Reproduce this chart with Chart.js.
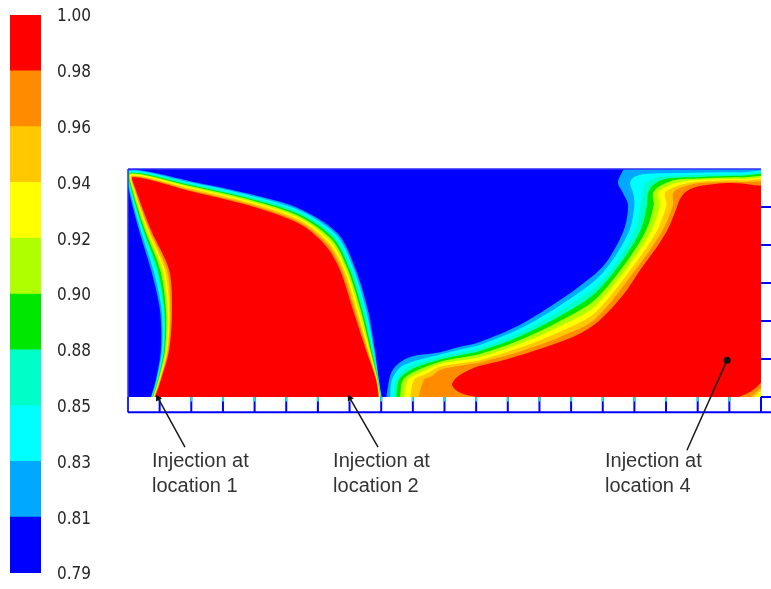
<!DOCTYPE html>
<html><head><meta charset="utf-8">
<script src="https://cdn.jsdelivr.net/npm/chart.js@4.4.0/dist/chart.umd.min.js"></script>
<style>
html,body{margin:0;padding:0;background:#fff;}
#wrap{position:relative;width:771px;height:589px;overflow:hidden;background:#fff;}
canvas{position:absolute;left:0;top:0;}
</style></head><body>
<div id="wrap">
<canvas id="bar" width="110" height="589"></canvas>
<canvas id="field" width="771" height="589"></canvas>
</div>
<script>
// ---------- colour scale ----------
const levelLabels = ['0.79','0.81','0.83','0.85','0.88','0.90','0.92','0.94','0.96','0.98','1.00']; // bottom -> top
const bandColors  = ['#0000ff','#00a8ff','#00ffff','#00ffc8','#00e800','#b0ff00','#ffff00','#ffc800','#ff8c00','#ff0000'];

// ---------- domain (x: 20 injector cells, y: 6 side cells) ----------
const domainBox = [[0,0],[20,0],[20,6],[0,6]];
const injectorTicks = [0,1,2,3,4,5,6,7,8,9,10,11,12,13,14,15,16,17,18,19,20];
const sideTicks = [0,1,2,3,4,5];

// ---------- contours, plume from injections 1 & 2 (levels 0.81 ... 0.98) ----------
const leftL1 = [[0.70,-0.08],[0.88,0.45],[1.04,1.24],[1.01,2.29],[0.73,3.34],[0.35,4.39],[0.03,5.45],[0.00,5.97],[1.96,5.68],[3.85,5.34],[5.43,4.95],[6.64,4.29],[7.20,3.34],[7.58,2.29],[7.80,1.24],[7.93,0.45],[8.03,-0.08]];
const leftL2 = [[0.71,-0.08],[0.90,0.45],[1.07,1.24],[1.06,2.29],[0.80,3.34],[0.40,4.39],[0.06,5.45],[0.02,5.95],[1.96,5.65],[3.85,5.30],[5.43,4.90],[6.59,4.25],[7.14,3.34],[7.52,2.29],[7.77,1.24],[7.92,0.45],[8.02,-0.08]];
const leftL3 = [[0.73,-0.08],[0.92,0.45],[1.11,1.24],[1.11,2.29],[0.87,3.34],[0.45,4.39],[0.09,5.45],[0.04,5.92],[1.96,5.62],[3.85,5.26],[5.43,4.85],[6.54,4.21],[7.08,3.34],[7.46,2.29],[7.73,1.24],[7.91,0.45],[8.00,-0.08]];
const leftL4 = [[0.74,-0.08],[0.94,0.45],[1.14,1.24],[1.15,2.29],[0.94,3.34],[0.49,4.39],[0.11,5.45],[0.06,5.90],[1.96,5.58],[3.85,5.22],[5.43,4.80],[6.50,4.17],[7.01,3.34],[7.40,2.29],[7.70,1.24],[7.90,0.45],[7.99,-0.08]];
const leftL5 = [[0.76,-0.08],[0.96,0.45],[1.17,1.24],[1.20,2.29],[1.02,3.34],[0.54,4.39],[0.14,5.45],[0.08,5.88],[1.96,5.55],[3.85,5.19],[5.43,4.75],[6.45,4.13],[6.95,3.34],[7.35,2.29],[7.66,1.24],[7.89,0.45],[7.98,-0.08]];
const leftL6 = [[0.77,-0.08],[0.98,0.45],[1.20,1.24],[1.25,2.29],[1.09,3.34],[0.59,4.39],[0.17,5.45],[0.10,5.86],[1.96,5.52],[3.85,5.15],[5.43,4.70],[6.40,4.09],[6.89,3.34],[7.29,2.29],[7.63,1.24],[7.87,0.45],[7.97,-0.08]];
const leftL7 = [[0.79,-0.08],[1.00,0.45],[1.24,1.24],[1.30,2.29],[1.16,3.34],[0.64,4.39],[0.20,5.45],[0.12,5.83],[1.96,5.49],[3.85,5.11],[5.43,4.65],[6.35,4.05],[6.83,3.34],[7.23,2.29],[7.59,1.24],[7.86,0.45],[7.96,-0.08]];
const leftL8 = [[0.80,-0.08],[1.02,0.45],[1.27,1.24],[1.34,2.29],[1.23,3.34],[0.68,4.39],[0.22,5.45],[0.14,5.81],[1.96,5.45],[3.85,5.07],[5.43,4.60],[6.31,4.01],[6.76,3.34],[7.17,2.29],[7.56,1.24],[7.85,0.45],[7.94,-0.08]];
const leftL9 = [[0.82,-0.08],[1.04,0.45],[1.30,1.24],[1.39,2.29],[1.30,3.34],[0.73,4.39],[0.25,5.45],[0.16,5.79],[1.96,5.42],[3.85,5.03],[5.43,4.55],[6.26,3.97],[6.70,3.34],[7.11,2.29],[7.52,1.24],[7.84,0.45],[7.93,-0.08]];
const leftPlume = [leftL1,leftL2,leftL3,leftL4,leftL5,leftL6,leftL7,leftL8,leftL9];

// ---------- contours, plume from injection 4 ----------
const rightL1 = [[8.15,-0.08],[8.25,0.45],[8.34,0.68],[8.53,0.87],[8.85,1.03],[9.23,1.11],[9.86,1.18],[10.49,1.32],[11.12,1.45],[12.39,1.90],[13.65,2.55],[14.76,3.24],[15.17,3.61],[15.67,4.40],[15.80,5.05],[15.64,5.37],[15.48,5.63],[15.58,5.87],[15.80,6.08],[20.6,6.08],[20.6,-0.4]];
const rightL2 = [[8.28,-0.08],[8.34,0.45],[8.69,0.83],[9.86,1.12],[10.49,1.25],[11.12,1.37],[12.39,1.80],[13.65,2.41],[14.76,3.07],[15.32,3.61],[15.85,4.40],[16.00,5.05],[15.96,5.37],[15.86,5.63],[15.99,5.79],[16.34,5.87],[18.07,5.90],[19.34,5.91],[20.6,5.84],[20.6,-0.4]];
const rightL3 = [[8.37,-0.08],[8.47,0.45],[8.85,0.79],[9.86,1.06],[10.49,1.17],[11.12,1.29],[12.39,1.70],[13.65,2.27],[14.76,2.90],[15.48,3.61],[16.02,4.40],[16.20,5.05],[16.27,5.37],[16.34,5.61],[16.65,5.76],[17.44,5.83],[19.34,5.86],[20.6,5.79],[20.6,-0.4]];
const rightL4 = [[8.47,-0.08],[8.56,0.45],[9.01,0.75],[9.86,0.99],[10.49,1.10],[11.12,1.21],[12.39,1.60],[13.65,2.13],[14.76,2.73],[15.64,3.61],[16.20,4.40],[16.40,5.05],[16.43,5.37],[16.59,5.58],[16.97,5.74],[18.07,5.79],[19.34,5.82],[20.6,5.74],[20.6,-0.4]];
const rightL5 = [[8.59,-0.08],[8.69,0.45],[9.16,0.71],[9.86,0.93],[10.49,1.03],[11.12,1.13],[12.39,1.50],[13.65,2.00],[14.76,2.56],[15.80,3.61],[16.38,4.40],[16.61,5.05],[16.59,5.37],[16.81,5.55],[17.28,5.71],[18.07,5.75],[19.34,5.78],[20.6,5.68],[20.13,0.11],[19.94,-0.08]];
const rightL6 = [[8.72,-0.08],[8.85,0.45],[9.32,0.67],[9.86,0.87],[10.49,0.96],[11.12,1.05],[12.39,1.40],[13.65,1.86],[14.76,2.39],[15.96,3.61],[16.55,4.40],[16.81,5.05],[16.75,5.37],[17.00,5.53],[17.44,5.66],[18.07,5.71],[19.34,5.74],[20.6,5.63],[20.13,0.18],[19.84,-0.08]];
const rightL7 = [[8.91,-0.08],[9.04,0.45],[9.48,0.63],[9.86,0.80],[10.49,0.89],[11.12,0.97],[12.39,1.30],[13.65,1.72],[14.76,2.22],[16.11,3.61],[16.73,4.40],[17.01,5.05],[16.97,5.37],[17.19,5.50],[17.60,5.61],[18.07,5.67],[19.34,5.70],[20.6,5.58],[20.13,0.26],[19.91,0.11],[19.75,-0.08]];
const rightL8 = [[9.16,-0.08],[9.35,0.45],[9.61,0.55],[9.86,0.71],[10.49,0.82],[11.12,0.91],[12.39,1.20],[13.65,1.58],[14.76,2.05],[16.27,3.61],[16.90,4.40],[17.22,5.05],[17.22,5.37],[17.44,5.50],[17.82,5.59],[18.07,5.63],[19.34,5.66],[20.6,5.51],[20.13,0.37],[19.84,0.13],[19.59,-0.08]];
const rightL9 = [[11.60,-0.08],[10.81,0.03],[10.40,0.16],[10.24,0.32],[10.36,0.50],[10.65,0.66],[11.12,0.82],[11.85,0.97],[12.70,1.18],[13.56,1.42],[14.19,1.63],[14.76,1.92],[15.29,2.34],[15.77,2.82],[16.18,3.34],[16.71,3.95],[17.06,4.42],[17.31,4.92],[17.44,5.21],[17.66,5.42],[18.07,5.55],[19.02,5.63],[19.75,5.58],[20.6,5.42],[20.13,0.55],[19.94,0.32],[19.65,0.13],[19.27,-0.01],[19.02,-0.08]];
const rightPlume = [rightL1,rightL2,rightL3,rightL4,rightL5,rightL6,rightL7,rightL8,rightL9];

// ---------- callouts (data coordinates) ----------
const callouts = [
  {lines:['Injection at','location 1'], tip:[0.95,-0.03], tail:[1.80,-1.32], label:[0.76,-1.84], marker:'arrow'},
  {lines:['Injection at','location 2'], tip:[7.01,-0.03], tail:[7.90,-1.32], label:[6.48,-1.84], marker:'arrow'},
  {lines:['Injection at','location 4'], tip:[18.93,0.97], tail:[17.66,-1.40], label:[15.07,-1.84], marker:'dot'}
];

const STRIP = 0.4;   // depth of the injector strip below the domain (y units)
const SIDE  = 0.5;   // width of the side strip right of the domain (x units)

// ================= colour bar =================
new Chart(document.getElementById('bar'), {
  type: 'bar',
  data: {
    labels: [''],
    datasets: bandColors.map((c, i) => ({
      data: [[i, i + 1]], backgroundColor: c, borderWidth: 0,
      grouped: false, barPercentage: 1, categoryPercentage: 1
    }))
  },
  options: {
    responsive: false, animation: false, events: [],
    layout: {padding: {left: 10, top: 15, bottom: 16, right: 0}},
    plugins: {legend: {display: false}, tooltip: {enabled: false}},
    scales: {
      x: {display: false},
      y: {
        position: 'right', min: 0, max: 10,
        afterFit(s) { s.width = 69; s.paddingTop = 0; s.paddingBottom = 0; },
        grid: {display: false, drawTicks: false},
        border: {display: false},
        ticks: {
          stepSize: 1, padding: 16, labelOffset: 2, color: '#262626',
          font: {family: '"DejaVu Sans Condensed","DejaVu Sans",sans-serif', size: 17},
          callback: v => levelLabels[v]
        }
      }
    }
  }
});

// ================= field =================
const pts = a => a.map(([x, y]) => ({x, y}));
const GAP = {x: null, y: null};
const paint = [];
function poly(points, color, tension) {
  return {data: pts(points), backgroundColor: color, fill: 'shape', showLine: true,
          borderWidth: 0, pointRadius: 0, tension: tension, capBezierPoints: false};
}
paint.push(poly(domainBox, bandColors[0], 0));
leftPlume.forEach((c, k) => paint.push(poly(c, bandColors[k + 1], 0.3)));
rightPlume.forEach((c, k) => paint.push(poly(c, bandColors[k + 1], 0.3)));

function segs(list) { const out = []; list.forEach(s => { out.push(s[0], s[1], GAP); }); return out; }
const lineDS = (data, color, width) => ({data, showLine: true, borderColor: color, borderWidth: width,
  pointRadius: 0, fill: false, clip: false, tension: 0});

// injector strip separators
paint.push(lineDS(segs(injectorTicks.map(t => [{x: t, y: 0}, {x: t, y: -STRIP}])), '#0000ff', 2));
// coloured tips of separators
paint.push(lineDS(segs(injectorTicks.slice(1, 20).map(t => [{x: t, y: 0}, {x: t, y: -0.12}])), '#20e8c0', 2));
// side strip separators
paint.push(lineDS(segs(sideTicks.map(s => [{x: 20, y: s}, {x: 20 + SIDE, y: s}])), '#0000ff', 2));
// frame
paint.push(lineDS(segs([
  [{x: 0, y: -STRIP}, {x: 0, y: 6}],
  [{x: 0, y: 6}, {x: 20, y: 6}]
]), '#3030ff', 1.5));
paint.push(lineDS(segs([[{x: 0, y: -STRIP}, {x: 20 + SIDE, y: -STRIP}]]), '#0000ff', 2));

// callout lines
paint.push(lineDS(segs(callouts.map(c => [{x: c.tip[0], y: c.tip[1]}, {x: c.tail[0], y: c.tail[1]}])), '#1a1a1a', 1.5));
// arrow heads / dot
paint.push({
  data: callouts.map(c => ({x: c.tip[0], y: c.tip[1]})),
  showLine: false, clip: false,
  pointStyle: callouts.map(c => c.marker === 'arrow' ? 'triangle' : 'circle'),
  pointRadius: callouts.map(c => c.marker === 'arrow' ? 4 : 3.5),
  backgroundColor: '#111', borderColor: '#111', borderWidth: 0,
  pointRotation(ctx) {
    const c = callouts[ctx.dataIndex]; if (!c) return 0;
    const sx = ctx.chart.scales.x, sy = ctx.chart.scales.y;
    const dx = sx.getPixelForValue(c.tip[0]) - sx.getPixelForValue(c.tail[0]);
    const dy = sy.getPixelForValue(c.tip[1]) - sy.getPixelForValue(c.tail[1]);
    return Math.atan2(dx, -dy) * 180 / Math.PI;
  }
});

paint.forEach((d, i) => { d.order = paint.length - i; });

const calloutText = {
  id: 'calloutText',
  afterDatasetsDraw(chart) {
    const {ctx, scales: {x, y}} = chart;
    ctx.save();
    ctx.font = '20px "Liberation Sans", Arial, sans-serif';
    ctx.fillStyle = '#333';
    ctx.textBaseline = 'alphabetic';
    ctx.textAlign = 'left';
    callouts.forEach(c => {
      const px = x.getPixelForValue(c.label[0]), py = y.getPixelForValue(c.label[1]);
      c.lines.forEach((t, i) => ctx.fillText(t, px, py + i * 25));
    });
    ctx.restore();
  }
};

new Chart(document.getElementById('field'), {
  type: 'scatter',
  data: {datasets: paint},
  options: {
    responsive: false, animation: false, events: [],
    layout: {padding: {left: 128, right: 10, top: 169, bottom: 192}},
    plugins: {legend: {display: false}, tooltip: {enabled: false}},
    scales: {
      x: {type: 'linear', min: 0, max: 20, display: false},
      y: {type: 'linear', min: 0, max: 6, display: false}
    }
  },
  plugins: [calloutText]
});
</script>
</body></html>
